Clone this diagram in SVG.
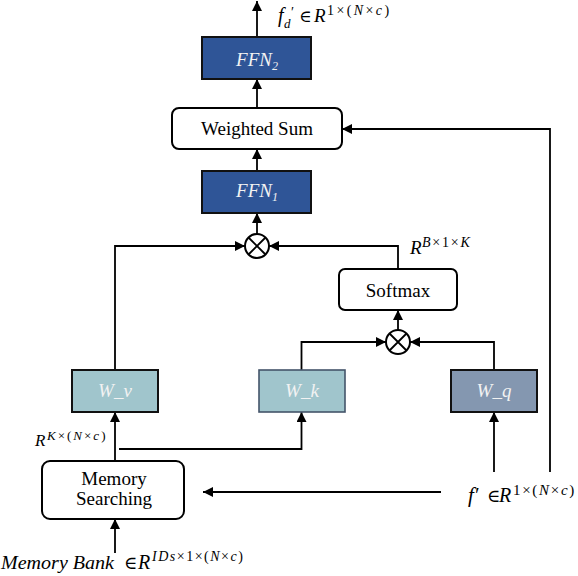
<svg xmlns="http://www.w3.org/2000/svg" width="578" height="576" viewBox="0 0 578 576">
<defs>
<marker id="ah" markerUnits="userSpaceOnUse" markerWidth="10" markerHeight="10" refX="10" refY="5" orient="auto">
<path d="M0,0 L10,5 L0,10 z" fill="#000"/>
</marker>
<style>
.ln{fill:none;stroke:#000;stroke-width:1.8;marker-end:url(#ah)}
.rb{fill:#fff;stroke:#000;stroke-width:2}
.ffn{fill:#2F5597;stroke:#111;stroke-width:2}
text{font-family:'Liberation Serif','Times New Roman','DejaVu Serif',serif}
.t{font-size:19px;fill:#000;text-anchor:middle}
.ti{font-size:19px;font-style:italic;fill:#F2F2F2;text-anchor:middle}
.m{font-style:italic;fill:#000}
.ox{fill:#fff;stroke:#000;stroke-width:2}
</style>
</defs>
<rect width="578" height="576" fill="#fff"/>

<g id="connectors">
<line class="ln" x1="257" y1="37" x2="257" y2="1"/>
<line class="ln" x1="257" y1="108" x2="257" y2="79"/>
<line class="ln" x1="257" y1="171" x2="257" y2="149"/>
<line class="ln" x1="257" y1="234" x2="257" y2="213"/>
<polyline class="ln" points="115,370 115,246 245,246"/>
<polyline class="ln" points="398,269 398,246 269,246"/>
<line class="ln" x1="398" y1="330" x2="398" y2="310"/>
<polyline class="ln" points="301.5,370 301.5,342 386,342"/>
<polyline class="ln" points="494,370 494,342 410,342"/>
<line class="ln" x1="115" y1="461" x2="115" y2="412"/>
<polyline class="ln" points="119,449 301.5,449 301.5,412"/>
<line class="ln" x1="115" y1="553" x2="115" y2="519"/>
<line class="ln" x1="441" y1="492" x2="203" y2="492"/>
<line class="ln" x1="494" y1="472" x2="494" y2="412"/>
<polyline class="ln" points="550,472 550,129 342,129"/>
</g>

<g id="ffn2">
<rect class="ffn" x="202" y="37" width="109" height="42"/>
<text class="ti" x="257" y="66">FFN<tspan font-size="12" dy="4">2</tspan></text>
</g>
<g id="weighted-sum">
<rect class="rb" x="172" y="108" width="170" height="41" rx="7"/>
<text class="t" x="257" y="135">Weighted Sum</text>
</g>
<g id="ffn1">
<rect class="ffn" x="202" y="171" width="109" height="42"/>
<text class="ti" x="257" y="197">FFN<tspan font-size="12" dy="4">1</tspan></text>
</g>
<g id="mul1">
<circle class="ox" cx="257" cy="246" r="12"/>
<path d="M248.5,237.5 L265.5,254.5 M265.5,237.5 L248.5,254.5" stroke="#000" stroke-width="1.8"/>
</g>
<g id="softmax">
<rect class="rb" x="339" y="269" width="118" height="41" rx="6"/>
<text class="t" x="398" y="297">Softmax</text>
</g>
<g id="mul2">
<circle class="ox" cx="398" cy="342" r="12"/>
<path d="M389.5,333.5 L406.5,350.5 M406.5,333.5 L389.5,350.5" stroke="#000" stroke-width="1.8"/>
</g>
<g id="wv">
<rect x="72" y="370" width="86" height="42" fill="#A0C5CC" stroke="#111" stroke-width="2"/>
<text class="ti" x="115" y="397">W_v</text>
</g>
<g id="wk">
<rect x="259" y="370" width="86" height="42" fill="#A0C5CC" stroke="#44546A" stroke-width="1.6"/>
<text class="ti" x="302" y="397">W_k</text>
</g>
<g id="wq">
<rect x="451" y="370" width="86" height="42" fill="#8497B0" stroke="#111" stroke-width="2"/>
<text class="ti" x="494" y="397">W_q</text>
</g>
<g id="memory-searching">
<rect class="rb" x="42" y="461" width="142" height="58" rx="8"/>
<text class="t" x="114" y="485">Memory</text>
<text class="t" x="114" y="505">Searching</text>
</g>

<text id="label-fd" class="m" font-size="20"><tspan x="278" y="22">f</tspan><tspan x="284" y="28" font-size="13">d</tspan><tspan x="291" y="17" font-size="14" font-style="normal">′</tspan><tspan x="299" y="22" font-size="17" font-style="normal">∈</tspan><tspan x="314" y="22" font-size="19">R</tspan><tspan x="327" y="15" font-size="14" font-style="normal" letter-spacing="2.4">1×(<tspan font-style="italic">N</tspan>×<tspan font-style="italic">c</tspan>)</tspan></text>

<text id="label-b1k" class="m" font-size="19"><tspan x="410" y="254">R</tspan><tspan x="422" y="247" font-size="14" letter-spacing="1.8">B<tspan font-style="normal">×1×</tspan>K</tspan></text>

<text id="label-knc" class="m" font-size="17"><tspan x="35" y="446">R</tspan><tspan x="47" y="440" font-size="13" letter-spacing="2">K<tspan font-style="normal">×(</tspan>N<tspan font-style="normal">×</tspan>c<tspan font-style="normal">)</tspan></tspan></text>

<text id="label-f" class="m" font-size="21"><tspan x="468" y="502">f′</tspan><tspan x="487" y="502" font-size="18" font-style="normal">∈</tspan><tspan x="499" y="502" font-size="20">R</tspan><tspan x="513" y="495" font-size="15" font-style="normal" letter-spacing="1.7">1×(<tspan font-style="italic">N</tspan>×<tspan font-style="italic">c</tspan>)</tspan></text>

<text id="label-bank" class="m" font-size="19"><tspan x="1" y="569" textLength="113" lengthAdjust="spacingAndGlyphs">Memory Bank</tspan><tspan x="124" y="569" font-size="18" font-style="normal">∈</tspan><tspan x="138" y="569" font-size="20">R</tspan><tspan x="152" y="561" font-size="14" letter-spacing="1.5">IDs<tspan font-style="normal">×1×(</tspan>N<tspan font-style="normal">×</tspan>c<tspan font-style="normal">)</tspan></tspan></text>
</svg>
